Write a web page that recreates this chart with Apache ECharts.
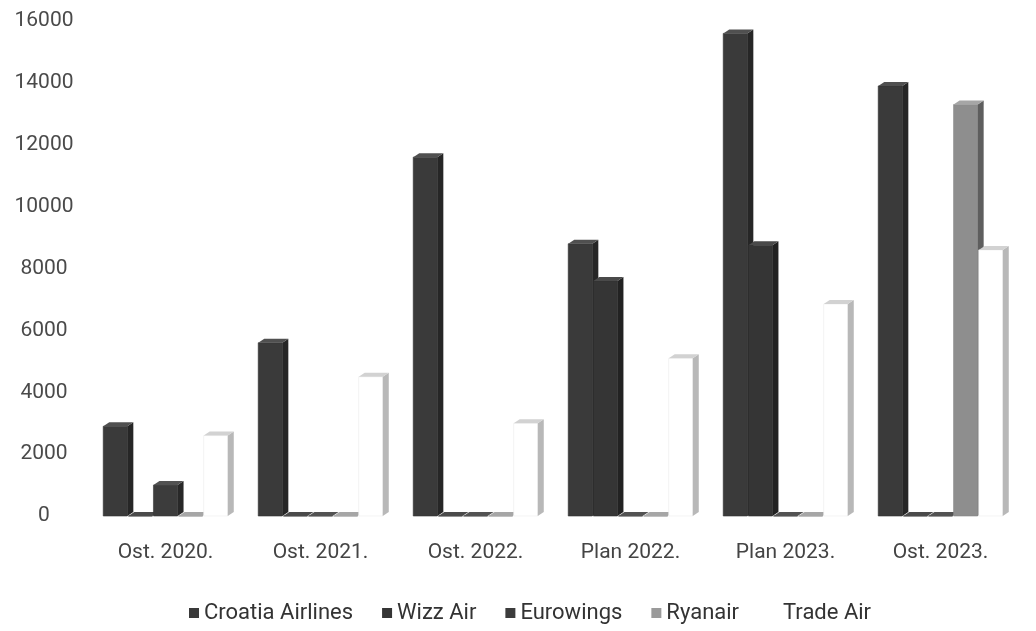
<!DOCTYPE html>
<html>
<head>
<meta charset="utf-8">
<script src="https://cdn.jsdelivr.net/npm/echarts@6/dist/echarts.min.js"></script>
<style>
  html, body { margin: 0; padding: 0; background: #ffffff; }
  #chart { width: 1036px; height: 631px; }
</style>
</head>
<body>
<div id="chart"></div>
<script>
const categories = ['Ost. 2020.', 'Ost. 2021.', 'Ost. 2022.', 'Plan 2022.', 'Plan 2023.', 'Ost. 2023.'];
const seriesNames = ['Croatia Airlines', 'Wizz Air', 'Eurowings', 'Ryanair', 'Trade Air'];
const croatiaAirlines = [2900, 5600, 11600, 8800, 15600, 13900];
const wizzAir = [0, 0, 0, 7600, 8750, 0];
const eurowings = [1000, 0, 0, 0, 0, 0];
const ryanair = [0, 0, 0, 0, 0, 13300];
const tradeAir = [2600, 4500, 3000, 5100, 6850, 8600];
const yTicks = [0, 2000, 4000, 6000, 8000, 10000, 12000, 14000, 16000];

const seriesValues = [croatiaAirlines, wizzAir, eurowings, ryanair, tradeAir];
const palette = [
  { front: '#3a3a3a', side: '#262626', top: '#505050', stroke: '#333333' },
  { front: '#353535', side: '#222222', top: '#4a4a4a', stroke: '#2e2e2e' },
  { front: '#3c3c3c', side: '#282828', top: '#525252', stroke: '#353535' },
  { front: '#8e8e8e', side: '#5e5e5e', top: '#a6a6a6', stroke: '#888888' },
  { front: '#ffffff', side: '#b8b8b8', top: '#d2d2d2', stroke: '#ececec' }
];
const legendColors = ['#3a3a3a', '#353535', '#3c3c3c', '#9a9a9a', '#ffffff'];

function makeRender(sIdx) {
  const c = palette[sIdx];
  return function (params, api) {
    const cat = api.value(0);
    const val = api.value(1);
    const base = api.coord([cat, 0]);
    const top = api.coord([cat, val]);
    const band = api.size([1, 0])[0];
    const slot = band * 0.162;
    const w = slot * 0.96;
    const dx = 6, dy = 4;
    const cx = base[0] + (sIdx - 2) * slot;
    const x0 = cx - w / 2;
    const yT = top[1], yB = base[1];
    return {
      type: 'group',
      children: [
        { type: 'rect', shape: { x: x0, y: yT, width: w, height: Math.max(0, yB - yT) },
          style: { fill: c.front, stroke: c.stroke, lineWidth: 0.6 } },
        { type: 'polygon', shape: { points: [[x0 + w, yT], [x0 + w + dx, yT - dy], [x0 + w + dx, yB - dy], [x0 + w, yB]] },
          style: { fill: c.side } },
        { type: 'polygon', shape: { points: [[x0, yT], [x0 + dx, yT - dy], [x0 + w + dx, yT - dy], [x0 + w, yT]] },
          style: { fill: c.top } }
      ]
    };
  };
}

const chart = echarts.init(document.getElementById('chart'), null, { renderer: 'canvas' });
chart.setOption({
  animation: false,
  backgroundColor: '#ffffff',
  grid: { left: 88, right: 18, top: 21, bottom: 115 },
  legend: {
    data: seriesNames,
    top: 597,
    left: 184,
    icon: 'rect',
    itemWidth: 10,
    itemHeight: 10,
    itemGap: 29,
    textStyle: { fontFamily: 'Roboto', fontSize: 22, color: '#333333' }
  },
  xAxis: {
    type: 'category',
    data: categories,
    axisLine: { show: false },
    axisTick: { show: false },
    axisLabel: { margin: 26, fontFamily: 'Roboto', fontSize: 21, color: '#444444' }
  },
  yAxis: {
    type: 'value',
    min: yTicks[0],
    max: yTicks[yTicks.length - 1],
    interval: 2000,
    axisLine: { show: false },
    axisTick: { show: false },
    splitLine: { show: false },
    axisLabel: {
      margin: 44, align: 'center', fontFamily: 'Roboto', fontSize: 21, color: '#4a4a4a',
      formatter: function (v) { return String(v); }
    }
  },
  series: seriesNames.map((name, i) => ({
    name: name,
    type: 'custom',
    renderItem: makeRender(i),
    itemStyle: { color: legendColors[i] },
    encode: { x: 0, y: 1 },
    data: seriesValues[i].map((v, k) => [k, v])
  }))
});
</script>
</body>
</html>
